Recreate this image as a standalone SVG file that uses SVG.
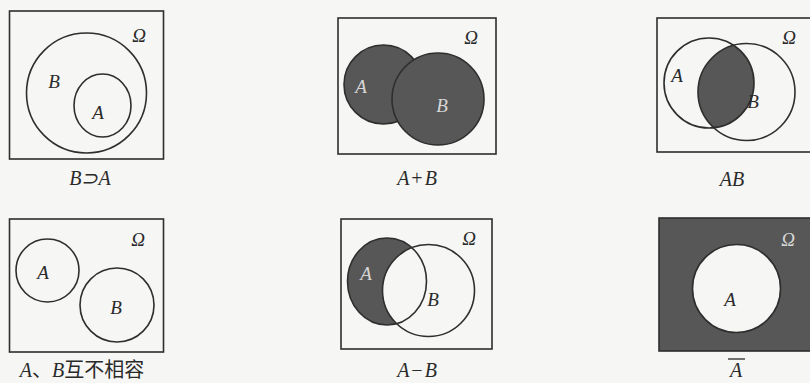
<svg xmlns="http://www.w3.org/2000/svg" width="810" height="383" viewBox="0 0 810 383">
  <style>
    .frame { fill: none; stroke: #2e2e2e; stroke-width: 1.6; }
    .ring { fill: none; stroke: #2e2e2e; stroke-width: 1.6; }
    .shade { fill: #575757; }
    .blank { fill: #f6f6f4; }
    .lbl { font-family: "Liberation Serif", "Times New Roman", serif; font-style: italic; font-size: 19px; fill: #2a2a2a; text-anchor: middle; }
    .lbl.light { fill: #d6d6d6; }
    .cap { font-family: "Liberation Serif", "Times New Roman", serif; font-size: 20px; fill: #2a2a2a; text-anchor: middle; }
    .it { font-style: italic; }
    .cjk { font-family: "Liberation Serif", "Noto Sans CJK SC", serif; }
  </style>
  <defs>
    <clipPath id="clipA3"><circle cx="709" cy="83" r="45"/></clipPath>
  </defs>
  <rect x="0" y="0" width="810" height="383" fill="#f6f6f4"/>

  <g id="panel-subset">
    <rect class="frame" x="9.5" y="11" width="154" height="148"/>
    <circle class="ring" cx="86.5" cy="93" r="60"/>
    <ellipse class="ring" cx="102.5" cy="105.5" rx="28.5" ry="31.5"/>
    <text class="lbl" x="139" y="42">Ω</text>
    <text class="lbl" x="54" y="88">B</text>
    <text class="lbl" x="98" y="119">A</text>
    <text class="cap it" x="90" y="185">B⊃A</text>
  </g>

  <g id="panel-union">
    <rect class="frame" x="338" y="18" width="158" height="136"/>
    <circle class="ring" style="fill:#575757" cx="383.5" cy="84.5" r="39.5"/>
    <circle class="ring" style="fill:#575757" cx="438" cy="99" r="46"/>
    <text class="lbl" x="471" y="44">Ω</text>
    <text class="lbl light" x="361" y="93">A</text>
    <text class="lbl light" x="442" y="112">B</text>
    <text class="cap it" x="417" y="185">A<tspan font-style="normal" dx="2">+</tspan><tspan dx="2">B</tspan></text>
  </g>

  <g id="panel-intersection">
    <rect class="frame" x="657" y="18" width="160" height="134"/>
    <circle class="shade" cx="746.5" cy="92" r="48.5" clip-path="url(#clipA3)"/>
    <circle class="ring" cx="709" cy="83" r="45"/>
    <circle class="ring" cx="746.5" cy="92" r="48.5"/>
    <text class="lbl" x="789" y="44">Ω</text>
    <text class="lbl" x="677" y="82">A</text>
    <text class="lbl" x="753" y="108">B</text>
    <text class="cap it" x="732" y="186">AB</text>
  </g>

  <g id="panel-disjoint">
    <rect class="frame" x="9.5" y="219" width="154" height="133"/>
    <circle class="ring" cx="47.5" cy="270.5" r="31.5"/>
    <circle class="ring" cx="117" cy="305" r="37"/>
    <text class="lbl" x="138" y="246">Ω</text>
    <text class="lbl" x="43" y="279">A</text>
    <text class="lbl" x="116" y="314">B</text>
    <text class="cap cjk" x="82" y="377" font-size="19"><tspan font-style="italic" font-family="Liberation Serif">A</tspan>、<tspan font-style="italic" font-family="Liberation Serif">B</tspan>互不相容</text>
  </g>

  <g id="panel-difference">
    <rect class="frame" x="341" y="219" width="151" height="130"/>
    <ellipse class="shade" cx="387" cy="281.5" rx="39.5" ry="43.5"/>
    <circle class="blank" cx="428.5" cy="290.5" r="46"/>
    <ellipse class="ring" cx="387" cy="281.5" rx="39.5" ry="43.5"/>
    <circle class="ring" cx="428.5" cy="290.5" r="46"/>
    <text class="lbl" x="469" y="245">Ω</text>
    <text class="lbl light" x="366" y="280">A</text>
    <text class="lbl" x="433" y="306">B</text>
    <text class="cap it" x="417" y="377">A<tspan font-style="normal" dx="2">−</tspan><tspan dx="2">B</tspan></text>
  </g>

  <g id="panel-complement">
    <rect class="shade" x="659" y="218" width="160" height="133"/>
    <rect class="frame" x="659" y="218" width="160" height="133"/>
    <circle class="blank" cx="736.5" cy="288.5" r="44"/>
    <circle class="ring" cx="736.5" cy="288.5" r="44"/>
    <text class="lbl light" x="788" y="246">Ω</text>
    <text class="lbl" x="730" y="306">A</text>
    <text class="cap it" x="736" y="377">A</text>
    <line x1="728" y1="359" x2="745" y2="359" stroke="#2a2a2a" stroke-width="1.3"/>
  </g>
</svg>
